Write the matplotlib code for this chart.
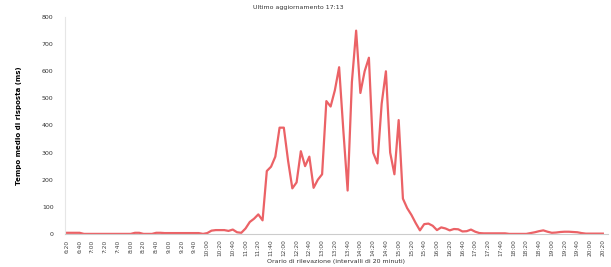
import matplotlib
matplotlib.use("Agg")
from matplotlib import pyplot as plt

# valori, 3 campioni per intervallo di etichetta
values = [
    4, 4, 4, 4, 0, 0, 0, 0, 0, 0, 0, 0, 0, 0, 0, 0,
    4, 4, 0, 0, 0, 4, 4, 3, 3, 3, 3, 3, 3, 3, 3, 3,
    0, 3, 12, 14, 14, 14, 11, 16, 6, 4, 20, 44, 56, 72, 50, 232,
    248, 285, 392, 392, 270, 168, 190, 305, 250, 285, 170, 200, 220, 490, 470, 530,
    615, 380, 160, 560, 750, 520, 600, 650, 300, 260, 480, 600, 300, 220, 420, 130,
    95, 70, 40, 13, 36, 38, 30, 14, 24, 20, 13, 18, 17, 9, 10, 16,
    8, 3, 2, 2, 2, 2, 2, 2, 0, 0, 0, 0, 0, 3, 6, 10,
    13, 8, 4, 5, 7, 8, 8, 7, 6, 3, 1, 1, 1, 1, 1,
]

tick_labels = []
h, m = 6, 20
for k in range(43):
    tick_labels.append('%d:%02d' % (h, m))
    m += 20
    if m == 60:
        h, m = h + 1, 0

y_ticks = [0, 100, 200, 300, 400, 500, 600, 700, 800]

fig = plt.figure(figsize=(6.11, 2.67), dpi=100)
ax = fig.add_axes([0.106, 0.124, 0.889, 0.812])

ax.plot(range(len(values)), values, color='#e8464b', linewidth=1.6, alpha=0.85)

ax.set_xlim(-0.5, 127.2)
ax.set_ylim(0, 800)
ax.set_yticks(y_ticks)
ax.set_yticklabels([str(v) for v in y_ticks], fontsize=4.5, color='#333333')
ax.set_xticks(range(0, 127, 3))
ax.set_xticklabels(tick_labels, rotation=90, fontsize=4.2, color='#444444')
ax.tick_params(length=0, pad=4)
ax.tick_params(axis='y', pad=8)

for s in ['top', 'right']:
    ax.spines[s].set_visible(False)
ax.spines['left'].set_color('#e6e6e6')
ax.spines['left'].set_linewidth(0.8)
ax.spines['bottom'].set_color('#cccccc')
ax.spines['bottom'].set_linewidth(0.8)

ax.set_ylabel('Tempo medio di risposta (ms)', fontsize=5, fontweight='bold', labelpad=14)
ax.set_xlabel('Orario di rilevazione (intervalli di 20 minuti)', fontsize=4.5, labelpad=2,
              color='#333333')
ax.text(0.43, 1.035, 'Ultimo aggiornamento 17:13', transform=ax.transAxes, fontsize=4.5,
        ha='center', color='#333333')

fig.savefig('out.png', dpi=100)
